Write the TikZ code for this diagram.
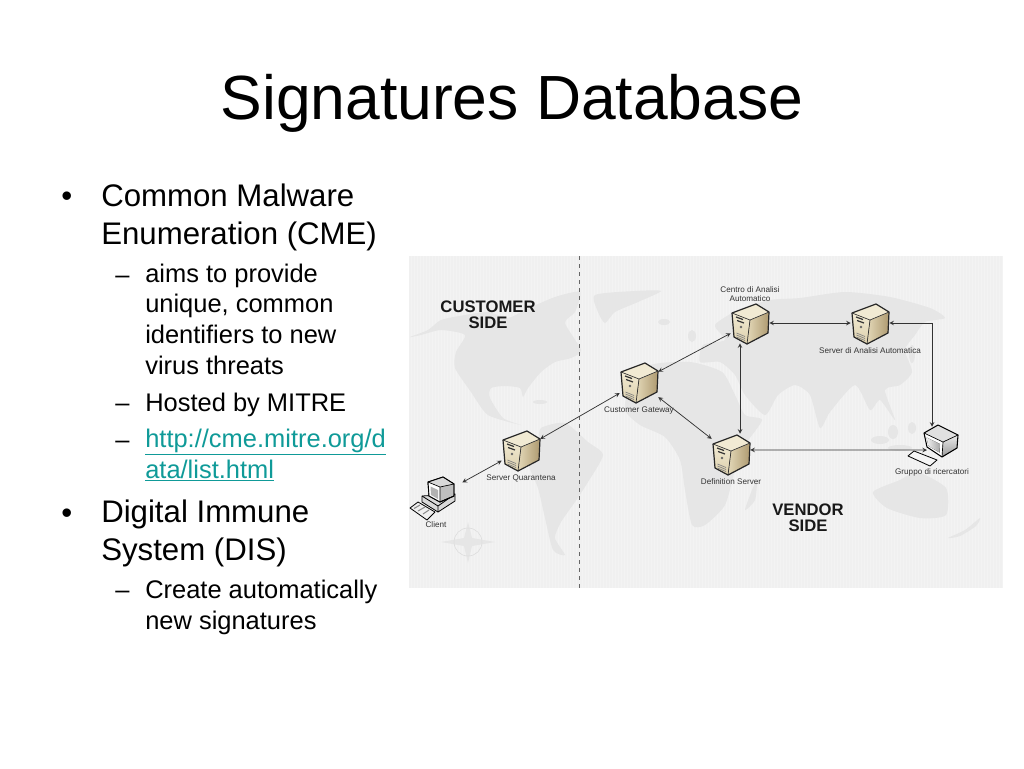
\documentclass[tikz,border=0pt]{standalone}
\usepackage{fontspec}
\setmainfont{Liberation Sans}
\usepackage{xcolor}
\usetikzlibrary{positioning,calc,arrows}

\definecolor{linkteal}{HTML}{0F9A98}
\definecolor{mapback}{HTML}{F0F0F0}
\definecolor{mapdots}{HTML}{F3F3F3}
\definecolor{mapland}{HTML}{E6E6E6}
\definecolor{caselight}{HTML}{F1EAD3}
\definecolor{casemid}{HTML}{DDD0AC}
\definecolor{casedark}{HTML}{AE9A70}

\tikzset{
    pics/serverbox/.style={code={
        \fill[bottom color=casemid, top color=caselight] (-18,-10) -- (0,-3) -- (-3,21) -- (-16,14) -- cycle;
        \fill[left color=casemid!70!caselight, right color=casedark] (0,-3) -- (19,-11) -- (18,10) -- (-3,21) -- cycle;
        \fill[caselight] (-18,-10) -- (6,-19) -- (19,-11) -- (0,-3) -- cycle;
        \draw[line width=.9pt, line join=round, black!85] (-18,-10) -- (6,-19) -- (19,-11) -- (18,10) -- (-3,21) -- (-16,14) -- cycle;
        \draw[line width=.5pt, black!80] (-18,-10) -- (0,-3) -- (19,-11) (0,-3) -- (-3,21);
        \draw[line width=.9pt, black!80] (-14,-6) -- (-7,-3.5) (-13,-2.5) -- (-6,0);
        \fill[black!60] (-9,4) circle (1.3);
        \foreach \k in {0,2,4} {
            \draw[black!50, line width=.5pt] (-13.5,{10+\k}) -- (-5,{13.5+\k});
        }
    }},
    pics/deskclient/.style={code={
        \filldraw[fill=black!6, line width=.6pt, line join=round] (-26,11) -- (-18,5) -- (-1,15) -- (-9,23) -- cycle;
        \draw[black!45, line width=.8pt] (-22,11.5) -- (-16,8) (-18,14) -- (-11,10) (-13,17) -- (-7,13);
        \filldraw[fill=black!15, line width=.6pt, line join=round] (-14,-1) -- (19,-3) -- (19,4) -- (2,15) -- (-14,5) -- cycle;
        \draw[line width=.6pt] (-14,-1) -- (2,9) -- (19,-3) (2,9) -- (2,15);
        \filldraw[fill=black!25, line width=.7pt, line join=round] (-8,-15) -- (7,-20) -- (18,-13) -- (18,-1) -- (4,5) -- (-7,-1) -- cycle;
        \fill[white] (-8,-15) -- (4,-10) -- (4,5) -- (-7,-1) -- cycle;
        \fill[black!15] (-8,-15) -- (7,-20) -- (18,-13) -- (4,-10) -- cycle;
        \fill[black!30] (-5.5,-10.5) -- (2,-7) -- (2,2) -- (-5,-2) -- cycle;
        \draw[line width=.7pt, line join=round] (-8,-15) -- (7,-20) -- (18,-13) -- (18,-1) -- (4,5) -- (-7,-1) -- cycle;
        \draw[line width=.5pt] (-8,-15) -- (4,-10) -- (18,-13) (4,-10) -- (4,5);
    }},
    pics/deskmonitor/.style={code={
        \filldraw[fill=black!4, line width=.6pt, line join=round] (-24,9) -- (-18,4) -- (5,13) -- (-2,19) -- cycle;
        \fill[bottom color=black!40, top color=black!8] (11,-5) -- (26,-12) -- (25,1) -- (10,10) -- cycle;
        \fill[black!12] (-8,-14) -- (6,-22) -- (26,-12) -- (11,-5) -- cycle;
        \fill[white] (-8,-14) -- (11,-5) -- (10,10) -- (-5,0) -- cycle;
        \fill[left color=black!5, right color=black!35] (-5.5,-9.5) -- (8,-3) -- (7.5,5.5) -- (-3.5,-1) -- cycle;
        \draw[line width=.8pt, line join=round] (-8,-14) -- (6,-22) -- (26,-12) -- (25,1) -- (10,10) -- (-5,0) -- cycle;
        \draw[line width=.5pt] (-8,-14) -- (11,-5) -- (26,-12) (11,-5) -- (10,10);
    }}
}

\begin{document}
\begin{tikzpicture}[
    x=.75pt, y=-.75pt,
    slidetitle/.style={anchor=base, inner sep=0pt, font=\fontsize{46.8pt}{50pt}\selectfont},
    bodyline/.style={anchor=base west, inner sep=0pt, align=left, font=\fontsize{23.4pt}{28.5pt}\selectfont},
    subline/.style={anchor=base west, inner sep=0pt, align=left, font=\fontsize{19.1pt}{23pt}\selectfont},
    server/.style={rectangle, inner sep=0pt, minimum width=28.5pt, minimum height=30pt},
    desktop/.style={rectangle, inner sep=0pt, minimum width=39pt, minimum height=30pt},
    maplabel/.style={inner sep=0pt, align=center, text=black!80, font=\fontsize{6.1pt}{6.4pt}\selectfont},
    sidelabel/.style={inner sep=0pt, align=center, text=black!90, font=\fontsize{12.5pt}{12.2pt}\selectfont\bfseries},
    arrow/.style={<->, >=stealth, line width=.55pt, black!80}
]
\useasboundingbox (0,0) rectangle (1024,768);

% title
\node[slidetitle] (title) at (512,119) {Signatures Database};

% text column
\node[bodyline] (cme) at (101,244) {Common Malware\\Enumeration (CME)};
\node[subline] (aims) at (145,374) {aims to provide\\unique, common\\identifiers to new\\virus threats};
\node[subline] (hosted) at (145,411) {Hosted by MITRE};
\node[subline, text=linkteal] (link) at (145,478) {\underline{http://cme.mitre.org/d}\\\underline{ata/list.html}};
\node[bodyline] (dis) at (101,560) {Digital Immune\\System (DIS)};
\node[subline] (create) at (145,629) {Create automatically\\new signatures};

% bullets
\node[bodyline] (dot1) at (61,206) {•};
\node[bodyline] (dot2) at (61,523) {•};
\node[subline] (dash1) at (115,283) {–};
\node[subline] (dash2) at (115,411) {–};
\node[subline] (dash3) at (115,448) {–};
\node[subline] (dash4) at (115,598) {–};

% map background
\fill[mapback] (409,256) rectangle (1002,588);
\draw[mapdots, line width=.3pt] (409,256) grid[step=3] (1002,588);
\fill[mapland] plot[smooth cycle, tension=.4] coordinates {(410,337) (428,330) (441,320) (465,315) (488,312) (508,318) (525,310) (555,297) (580,292) (575,312) (565,323) (581,350) (571,358) (555,362) (541,372) (528,388) (523,397) (520,388) (505,386) (491,388) (490,398) (503,418) (521,425) (488,415) (471,392) (455,368) (456,352) (465,335) (441,330) (421,335)};
\fill[mapland] plot[smooth cycle, tension=.4] coordinates {(541,428) (565,423) (588,442) (603,455) (588,482) (575,502) (561,522) (555,538) (565,555) (553,550) (545,518) (538,488) (528,462) (538,442)};
\fill[mapland] plot[smooth cycle, tension=.4] coordinates {(595,295) (635,291) (661,291) (638,302) (615,312) (605,323) (598,312)};
\fill[mapland] plot[smooth cycle, tension=.4] coordinates {(650,365) (690,362) (722,372) (735,395) (745,415) (762,420) (745,445) (735,470) (725,505) (705,525) (692,525) (685,490) (680,460) (665,437) (640,425) (625,410) (630,385)};
\fill[mapland] plot[smooth cycle, tension=.4] coordinates {(700,362) (703,345) (725,340) (715,325) (738,310) (770,300) (800,298) (845,292) (890,297) (930,308) (945,318) (925,322) (915,335) (905,350) (912,372) (900,385) (885,390) (895,420) (880,400) (870,410) (855,385) (830,412) (820,428) (810,395) (795,385) (778,395) (765,415) (745,395) (735,375) (720,362)};
\fill[mapland] plot[smooth cycle, tension=.4] coordinates {(873,492) (900,480) (917,472) (946,488) (946,515) (920,518) (887,508)};
\fill[mapland] plot[smooth cycle, tension=.4] coordinates {(752,490) (757,480) (755,500) (745,510)};
\fill[mapland] plot[smooth cycle, tension=.4] coordinates {(948,538) (965,530) (980,518) (976,526) (960,536)};
\fill[mapland] (880,440) ellipse (9 and 4) (900,448) ellipse (12 and 3) (893,432) ellipse (5 and 7) (912,428) ellipse (4 and 6) (912,354) ellipse (3 and 9) (692,336) ellipse (4 and 6) (664,322) ellipse (6 and 3) (540,402) ellipse (7 and 2);

% compass
\fill[mapland] (468,522) -- (472,538) -- (495,542) -- (472,546) -- (468,563) -- (464,546) -- (441,542) -- (464,538) -- cycle;
\draw[mapland!95!black] (468,542) circle (14);

% customer and vendor side
\draw[dashed, black!60, thin] (579,256) -- (579,588);
\node[sidelabel] (customer) at (488,315) {CUSTOMER\\SIDE};
\node[sidelabel] (vendor) at (808,518) {VENDOR\\SIDE};

% machines
\node[server] (quarantena) at (521,450) {};
\node[server] (gateway) at (639,382) {};
\node[server] (centro) at (750,323) {};
\node[server] (analisi) at (870,323) {};
\node[server] (definition) at (731,454) {};
\node[desktop] (client) at (436,497) {};
\node[desktop] (gruppo) at (932,447) {};
\coordinate (gruppoin) at (927,450);

\pic at (quarantena) {serverbox};
\pic at (gateway) {serverbox};
\pic at (centro) {serverbox};
\pic at (analisi) {serverbox};
\pic at (definition) {serverbox};
\pic at (client) {deskclient};
\pic at (gruppo) {deskmonitor};

% labels
\node[maplabel, below=3pt of quarantena] (quarantenatext) {Server Quarantena};
\node[maplabel, below=3pt of gateway] (gatewaytext) {Customer Gateway};
\node[maplabel, above=1pt of centro] (centrotext) {Centro di Analisi\\Automatico};
\node[maplabel, below=3pt of analisi] (analisitext) {Server di Analisi Automatica};
\node[maplabel, below=3pt of definition] (definitiontext) {Definition Server};
\node[maplabel, below=3pt of client] (clienttext) {Client};
\node[maplabel, below=1pt of gruppo] (gruppotext) {Gruppo di ricercatori};

% connectors
\draw[arrow] (client) -- (quarantena);
\draw[arrow] (quarantena) -- (gateway);
\draw[arrow] (gateway) -- (centro);
\draw[arrow] (gateway) -- (definition);
\draw[arrow] (centro.south -| 740,0) -- (definition.north -| 740,0);
\draw[arrow] (centro) -- (analisi);
\draw[arrow] (analisi.east) -| (gruppo.north);
\draw[arrow] (definition.12) -- (gruppoin);

\end{tikzpicture}
\end{document}
